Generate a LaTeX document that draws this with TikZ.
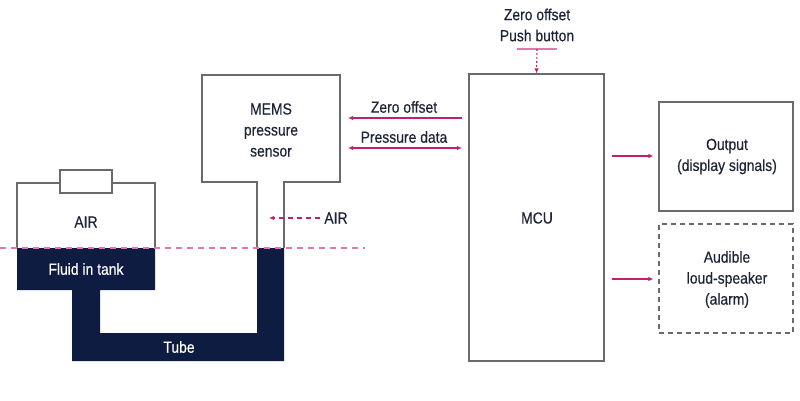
\documentclass[tikz,border=0pt]{standalone}
\usepackage{fontspec}
\setmainfont[FakeStretch=0.87,FakeBold=0.4]{Liberation Sans}
\usetikzlibrary{arrows.meta}
\definecolor{navy}{RGB}{14,28,66}
\definecolor{pinkline}{RGB}{196,30,110}
\definecolor{pinkdash}{RGB}{225,120,170}
\definecolor{wall}{RGB}{105,105,110}
\definecolor{txt}{RGB}{30,36,55}
\tikzset{
  wallline/.style={draw=wall, line width=1.1pt},
  boxnode/.style={wallline, fill=white, inner sep=0pt},
  lbl/.style={text=txt, font=\fontsize{16}{21}\selectfont, align=center, inner sep=0pt},
  wlbl/.style={text=white, font=\fontsize{16}{21}\selectfont, align=center, inner sep=0pt},
  sig/.style={draw=pinkline, line width=1.1pt, -{Latex[length=5pt,width=4.5pt]}},
  sigdash/.style={sig, dashed, dash pattern=on 5pt off 4pt},
}
\begin{document}
\begin{tikzpicture}[x=1pt,y=-1pt]
\useasboundingbox (0,0) rectangle (800,401);
% fluid
\fill[navy] (17,248) -- (155,248) -- (155,290) -- (100,290) -- (100,333) -- (257,333)
  -- (257,248) -- (284,248) -- (284,361) -- (72,361) -- (72,290) -- (17,290) -- cycle;
% tank walls
\draw[wallline] (17,248) -- (17,183) -- (155,183) -- (155,248);
\node[boxnode, minimum width=52pt, minimum height=23pt] (cap) at (86,181.5) {};
% sensor box with tube
\draw[wallline] (257,248) -- (257,182) -- (202,182) -- (202,75) -- (340,75) -- (340,182) -- (284,182) -- (284,248);
\node[lbl] (mems) at (271,130) {MEMS\\pressure\\sensor};
% level line
\coordinate (lvlL) at (0,248);
\coordinate (lvlR) at (365,248);
\draw[pinkdash, line width=1.1pt, dash pattern=on 6pt off 5pt] (lvlL) -- (lvlR);
% labels in tank
\node[lbl] (airtank) at (86,222) {AIR};
\node[wlbl] (fluid) at (86,269) {Fluid in tank};
\node[wlbl] (tube) at (179,347) {Tube};
% AIR arrow
\node[lbl] (airtube) at (336,218) {AIR};
\coordinate (airtip) at (269,218);
\draw[sigdash] (airtube.west) ++(-4pt,0) -- (airtip);
% MCU
\node[boxnode, minimum width=135pt, minimum height=287pt] (mcu) at (536.5,217.5) {};
\node[lbl] (mculbl) at (537,218) {MCU};
% Output
\node[boxnode, minimum width=134pt, minimum height=109pt] (out) at (726,156.5) {};
\node[lbl] (outlbl) at (727,156.5) {Output\\(display signals)};
% Audible
\node[boxnode, dashed, dash pattern=on 5pt off 4pt, minimum width=134pt, minimum height=109pt] (alarm) at (726,278.5) {};
\node[lbl] (alarmlbl) at (727,279.5) {Audible\\loud-speaker\\(alarm)};
% Zero offset / pressure data
\coordinate (zoR) at (462,118);
\coordinate (zoL) at (348,118);
\draw[sig] (zoR) -- (zoL);
\node[lbl] (zolbl) at (404,107) {Zero offset};
\coordinate (pdR) at (462,148);
\coordinate (pdL) at (348,148);
\draw[sig, {Latex[length=5pt,width=4.5pt]}-{Latex[length=5pt,width=4.5pt]}] (pdL) -- (pdR);
\node[lbl] (pdlbl) at (404,137) {Pressure data};
% push button
\node[lbl] (push) at (537,25) {Zero offset\\Push button};
\coordinate (ulL) at (517,49);
\coordinate (ulR) at (557,49);
\draw[pinkdash, line width=1.1pt] (ulL) -- (ulR);
\draw[sig, dash pattern=on 2pt off 2pt] (537,49) -- (mcu.north);
% outputs
\coordinate (o1) at (612,156);
\draw[sig, shorten >=5pt] (o1) -- (o1 -| out.west);
\coordinate (o2) at (612,279);
\draw[sig, shorten >=5pt] (o2) -- (o2 -| alarm.west);
\end{tikzpicture}
\end{document}
